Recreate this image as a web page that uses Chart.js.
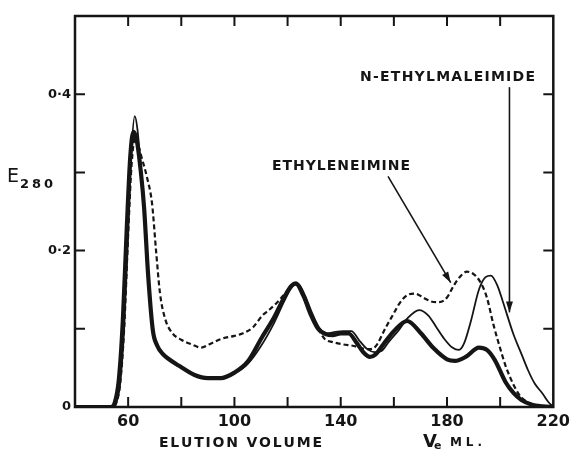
<!DOCTYPE html>
<html>
<head>
<meta charset="utf-8">
<script src="https://cdn.jsdelivr.net/npm/chart.js@4.4.1/dist/chart.umd.min.js"></script>
<style>
  html, body { margin: 0; padding: 0; background: #fff; }
  canvas { display: block; }
</style>
</head>
<body>
<canvas id="elutionChart" width="575" height="449"></canvas>
<script>
// elution volume (ml) and E280 readings
const controlX = [40, 53.5, 55, 56.5, 58, 59.5, 60.8, 62, 63.2, 64.8, 66, 67.5, 69.3, 71, 73, 75, 79, 85, 90, 95, 100, 105, 110, 115, 119, 121.5, 123, 126, 128.5, 131.5, 134.5, 137, 140, 143, 146, 148.5, 151, 153, 156, 160, 165, 170, 175, 180, 183, 187, 192, 195, 198, 202, 205, 208, 212, 216, 220];
const controlY = [0, 0, 0.006, 0.035, 0.11, 0.23, 0.32, 0.352, 0.342, 0.3, 0.255, 0.17, 0.098, 0.078, 0.068, 0.062, 0.053, 0.041, 0.037, 0.037, 0.044, 0.058, 0.087, 0.115, 0.142, 0.155, 0.158, 0.142, 0.12, 0.1, 0.093, 0.092, 0.094, 0.094, 0.082, 0.07, 0.064, 0.067, 0.08, 0.097, 0.11, 0.095, 0.075, 0.061, 0.059, 0.064, 0.076, 0.073, 0.06, 0.032, 0.018, 0.009, 0.003, 0.001, 0];

const nemX = [40, 54, 55.5, 57, 58.5, 60, 61.3, 62.5, 63.5, 64.8, 66, 67.5, 69.3, 71, 73, 75, 79, 85, 90, 95, 100, 105, 110, 115, 119, 122, 124, 126.5, 129, 132, 135, 138, 141, 144, 147, 150, 153, 155.5, 158, 162, 165, 169.5, 173, 176, 179, 182, 184.5, 186.5, 189, 192, 194.5, 196.5, 199, 201, 205, 208, 210.5, 213, 216, 218, 220];
const nemY = [0, 0, 0.005, 0.03, 0.1, 0.22, 0.33, 0.372, 0.355, 0.305, 0.255, 0.17, 0.098, 0.078, 0.068, 0.062, 0.053, 0.041, 0.037, 0.037, 0.043, 0.055, 0.078, 0.108, 0.137, 0.155, 0.157, 0.143, 0.122, 0.101, 0.094, 0.096, 0.097, 0.097, 0.085, 0.074, 0.07, 0.072, 0.083, 0.099, 0.113, 0.124, 0.117, 0.102, 0.087, 0.076, 0.073, 0.082, 0.11, 0.15, 0.166, 0.168, 0.155, 0.135, 0.093, 0.068, 0.047, 0.03, 0.017, 0.007, 0];

const eiX = [40, 54, 55.5, 57, 58.5, 60, 61.3, 62.7, 64, 65, 67, 69, 70.5, 72, 74, 76.5, 80, 84, 87.5, 91, 95, 100, 103, 107, 110.5, 113, 115.6, 119, 121.5, 123.5, 126, 128.5, 131.5, 134, 137, 141, 145, 148, 150.5, 153, 157, 160, 162, 165, 168, 171, 174, 177, 180, 182.5, 185, 187.5, 190, 192.5, 195, 197.5, 200, 202, 204, 206, 208, 211, 214, 217, 220];
const eiY = [0, 0, 0.005, 0.03, 0.1, 0.22, 0.31, 0.345, 0.333, 0.32, 0.295, 0.26, 0.2, 0.145, 0.112, 0.095, 0.086, 0.08, 0.076, 0.081, 0.087, 0.091, 0.094, 0.102, 0.117, 0.124, 0.132, 0.145, 0.155, 0.157, 0.14, 0.12, 0.1, 0.087, 0.083, 0.08, 0.078, 0.075, 0.074, 0.077, 0.102, 0.12, 0.132, 0.143, 0.145, 0.14, 0.135, 0.134, 0.14, 0.155, 0.167, 0.173, 0.17, 0.16, 0.14, 0.105, 0.075, 0.053, 0.036, 0.022, 0.012, 0.005, 0.002, 0.001, 0];

const xLabelled = [60, 100, 140, 180, 220];
const yLabels = { 0: "0", 0.2: "0·2", 0.4: "0·4" };

const ink = "#151515";

function toPoints(xs, ys) {
  return xs.map((x, i) => ({ x: x, y: ys[i] }));
}

// draw text stretched with letter spacing so it spans left..right
function spacedText(ctx, text, left, right, baseline) {
  const chars = text.split("");
  const raw = chars.reduce((w, c) => w + ctx.measureText(c).width, 0);
  const gap = chars.length > 1 ? (right - left - raw) / (chars.length - 1) : 0;
  let x = left;
  chars.forEach((c) => {
    ctx.fillText(c, x, baseline);
    x += ctx.measureText(c).width + gap;
  });
}

function arrow(ctx, x1, y1, x2, y2) {
  ctx.beginPath();
  ctx.moveTo(x1, y1);
  ctx.lineTo(x2, y2);
  ctx.stroke();
  const ang = Math.atan2(y2 - y1, x2 - x1);
  const len = 11, half = 3.5;
  ctx.beginPath();
  ctx.moveTo(x2, y2);
  ctx.lineTo(x2 - len * Math.cos(ang) + half * Math.sin(ang), y2 - len * Math.sin(ang) - half * Math.cos(ang));
  ctx.lineTo(x2 - len * Math.cos(ang) - half * Math.sin(ang), y2 - len * Math.sin(ang) + half * Math.cos(ang));
  ctx.closePath();
  ctx.fill();
}

const frameAndNotes = {
  id: "frameAndNotes",
  afterDraw(chart) {
    const { ctx, chartArea: a, scales } = chart;
    const xs = scales.x, ys = scales.y;
    ctx.save();
    ctx.strokeStyle = ink;
    ctx.fillStyle = ink;

    // inward ticks on all four sides
    ctx.lineWidth = 2;
    ctx.beginPath();
    xs.ticks.forEach((t) => {
      if (t.value <= xs.min || t.value >= xs.max) return;
      const px = xs.getPixelForValue(t.value);
      ctx.moveTo(px, a.bottom); ctx.lineTo(px, a.bottom - 10);
      ctx.moveTo(px, a.top); ctx.lineTo(px, a.top + 10);
    });
    ys.ticks.forEach((t) => {
      if (t.value <= ys.min || t.value >= ys.max) return;
      const py = ys.getPixelForValue(t.value);
      ctx.moveTo(a.left, py); ctx.lineTo(a.left + 10, py);
      ctx.moveTo(a.right, py); ctx.lineTo(a.right - 10, py);
    });
    ctx.stroke();

    ctx.lineWidth = 2.5;
    ctx.strokeRect(a.left, a.top, a.right - a.left, a.bottom - a.top);

    // axis titles
    ctx.textBaseline = "alphabetic";
    ctx.font = "19px 'DejaVu Sans'";
    ctx.fillText("E", 7, 182);
    ctx.font = "bold 13px 'DejaVu Sans'";
    spacedText(ctx, "280", 20, 53, 188);

    ctx.font = "bold 14px 'DejaVu Sans'";
    spacedText(ctx, "ELUTION VOLUME", 159, 322, 447);
    ctx.font = "bold 18px 'DejaVu Sans'";
    ctx.fillText("V", 423, 447);
    ctx.font = "bold 11px 'DejaVu Sans'";
    ctx.fillText("e", 434, 449);
    ctx.font = "bold 12px 'DejaVu Sans'";
    spacedText(ctx, "ML.", 450, 482, 446);

    // curve labels and arrows
    ctx.font = "bold 14px 'DejaVu Sans'";
    spacedText(ctx, "N-ETHYLMALEIMIDE", 360, 535, 81);
    spacedText(ctx, "ETHYLENEIMINE", 272, 410, 170);

    ctx.lineWidth = 1.6;
    arrow(ctx, xs.getPixelForValue(157.8), ys.getPixelForValue(0.295),
      xs.getPixelForValue(181.4), ys.getPixelForValue(0.159));
    arrow(ctx, xs.getPixelForValue(203.5), ys.getPixelForValue(0.409),
      xs.getPixelForValue(203.5), ys.getPixelForValue(0.121));
    ctx.restore();
  },
};

const chartCanvas = document.getElementById("elutionChart").getContext("2d");

new Chart(chartCanvas, {
  type: "line",
  data: {
    datasets: [
      {
        label: "Control",
        data: toPoints(controlX, controlY),
        borderColor: ink,
        borderWidth: 4.2,
      },
      {
        label: "N-Ethylmaleimide",
        data: toPoints(nemX, nemY),
        borderColor: ink,
        borderWidth: 1.8,
      },
      {
        label: "Ethyleneimine",
        data: toPoints(eiX, eiY),
        borderColor: ink,
        borderWidth: 2.2,
        borderDash: [5, 3],
      },
    ],
  },
  options: {
    responsive: false,
    animation: false,
    devicePixelRatio: 1,
    layout: { padding: { top: 16, right: 20, left: 0, bottom: 0 } },
    elements: {
      point: { radius: 0 },
      line: { cubicInterpolationMode: "monotone", fill: false },
    },
    plugins: {
      legend: { display: false },
      tooltip: { enabled: false },
    },
    scales: {
      x: {
        type: "linear",
        min: 40,
        max: 220,
        grid: { display: false, drawTicks: false },
        border: { display: false },
        afterFit: (scale) => { scale.height = 42; },
        ticks: {
          stepSize: 20,
          autoSkip: false,
          maxRotation: 0,
          padding: 5,
          color: ink,
          font: { family: "'DejaVu Sans'", size: 16, weight: "bold" },
          callback: (v) => (xLabelled.includes(v) ? String(v) : ""),
        },
      },
      y: {
        min: 0,
        max: 0.5,
        grid: { display: false, drawTicks: false },
        border: { display: false },
        afterFit: (scale) => { scale.width = 75; },
        ticks: {
          stepSize: 0.1,
          padding: 4,
          color: ink,
          font: { family: "'DejaVu Sans'", size: 13, weight: "bold" },
          callback: (v) => {
            const key = Math.round(v * 10) / 10;
            return yLabels[key] !== undefined ? yLabels[key] : "";
          },
        },
      },
    },
  },
  plugins: [frameAndNotes],
});
</script>
</body>
</html>
